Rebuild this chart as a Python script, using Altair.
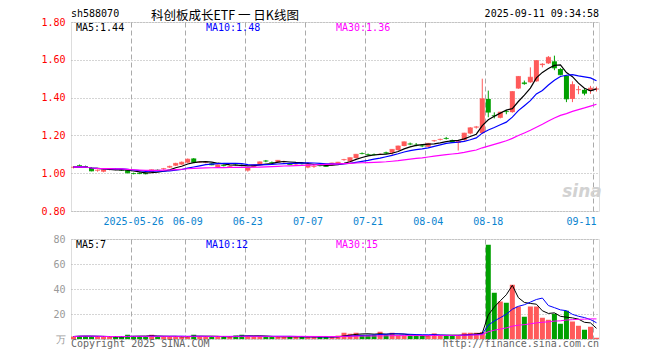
import altair as alt
import pandas as pd

dates = [
    "2025-05-12", "2025-05-13", "2025-05-14", "2025-05-15", "2025-05-16",
    "2025-05-19", "2025-05-20", "2025-05-21", "2025-05-22", "2025-05-23",
    "2025-05-26", "2025-05-27", "2025-05-28", "2025-05-29", "2025-05-30",
    "2025-06-03", "2025-06-04", "2025-06-05", "2025-06-06",
    "2025-06-09", "2025-06-10", "2025-06-11", "2025-06-12", "2025-06-13",
    "2025-06-16", "2025-06-17", "2025-06-18", "2025-06-19", "2025-06-20",
    "2025-06-23", "2025-06-24", "2025-06-25", "2025-06-26", "2025-06-27",
    "2025-06-30", "2025-07-01", "2025-07-02", "2025-07-03", "2025-07-04",
    "2025-07-07", "2025-07-08", "2025-07-09", "2025-07-10", "2025-07-11",
    "2025-07-14", "2025-07-15", "2025-07-16", "2025-07-17", "2025-07-18",
    "2025-07-21", "2025-07-22", "2025-07-23", "2025-07-24", "2025-07-25",
    "2025-07-28", "2025-07-29", "2025-07-30", "2025-07-31", "2025-08-01",
    "2025-08-04", "2025-08-05", "2025-08-06", "2025-08-07", "2025-08-08",
    "2025-08-11", "2025-08-12", "2025-08-13", "2025-08-14", "2025-08-15",
    "2025-08-18", "2025-08-19", "2025-08-20", "2025-08-21", "2025-08-22",
    "2025-08-25", "2025-08-26", "2025-08-27", "2025-08-28", "2025-08-29",
    "2025-09-01", "2025-09-02", "2025-09-03", "2025-09-04", "2025-09-05",
    "2025-09-08", "2025-09-09", "2025-09-10", "2025-09-11",
]

opens = [
    1.030, 1.042, 1.036, 1.028, 1.014, 1.008, 1.018, 1.022, 1.020, 1.016,
    1.000, 1.002, 1.000, 1.004, 1.018, 1.022, 1.030, 1.040, 1.046,
    1.056, 1.078, 1.058, 1.056, 1.052, 1.032, 1.044, 1.034, 1.050, 1.044,
    1.014, 1.032, 1.046, 1.066, 1.058, 1.056, 1.060, 1.052, 1.046, 1.052,
    1.030, 1.034, 1.042, 1.046, 1.042, 1.048, 1.070, 1.062, 1.080, 1.106,
    1.100, 1.100, 1.099, 1.110, 1.108, 1.122, 1.144, 1.156, 1.150, 1.146,
    1.140, 1.170, 1.177, 1.186, 1.175, 1.160, 1.175, 1.210, 1.242, 1.212,
    1.393, 1.306, 1.293, 1.328, 1.323, 1.448, 1.480, 1.481, 1.486, 1.572,
    1.581, 1.592, 1.551, 1.516, 1.393, 1.440, 1.441, 1.436, 1.444,
]
highs = [
    1.038, 1.046, 1.040, 1.030, 1.020, 1.022, 1.026, 1.026, 1.022, 1.018,
    1.003, 1.004, 1.003, 1.020, 1.020, 1.028, 1.040, 1.055, 1.062,
    1.078, 1.080, 1.064, 1.062, 1.054, 1.046, 1.046, 1.040, 1.054, 1.046,
    1.032, 1.046, 1.062, 1.070, 1.062, 1.070, 1.066, 1.054, 1.054, 1.056,
    1.058, 1.050, 1.046, 1.048, 1.056, 1.060, 1.076, 1.084, 1.102, 1.110,
    1.104, 1.104, 1.104, 1.114, 1.128, 1.146, 1.168, 1.162, 1.160, 1.150,
    1.160, 1.176, 1.183, 1.192, 1.178, 1.176, 1.214, 1.244, 1.250, 1.500,
    1.437, 1.322, 1.325, 1.335, 1.434, 1.514, 1.490, 1.560, 1.598, 1.582,
    1.620, 1.622, 1.556, 1.518, 1.486, 1.462, 1.450, 1.462, 1.458,
]
lows = [
    1.025, 1.030, 1.028, 1.010, 1.008, 1.005, 1.015, 1.016, 1.012, 0.999,
    0.994, 0.995, 0.994, 1.002, 1.010, 1.018, 1.028, 1.038, 1.044,
    1.054, 1.056, 1.054, 1.052, 1.042, 1.028, 1.036, 1.030, 1.040, 1.036,
    1.008, 1.030, 1.044, 1.058, 1.052, 1.054, 1.056, 1.044, 1.044, 1.046,
    1.026, 1.028, 1.036, 1.034, 1.040, 1.046, 1.066, 1.060, 1.078, 1.100,
    1.094, 1.094, 1.096, 1.102, 1.096, 1.120, 1.142, 1.148, 1.142, 1.138,
    1.138, 1.166, 1.173, 1.178, 1.162, 1.120, 1.172, 1.206, 1.236, 1.208,
    1.296, 1.290, 1.290, 1.312, 1.320, 1.446, 1.468, 1.478, 1.484, 1.560,
    1.578, 1.545, 1.518, 1.376, 1.376, 1.418, 1.412, 1.420, 1.432,
]
closes = [
    1.032, 1.034, 1.032, 1.012, 1.016, 1.018, 1.022, 1.020, 1.016, 1.002,
    0.998, 0.998, 0.997, 1.018, 1.014, 1.024, 1.036, 1.052, 1.058,
    1.074, 1.058, 1.060, 1.058, 1.044, 1.044, 1.040, 1.036, 1.048, 1.040,
    1.030, 1.044, 1.060, 1.064, 1.056, 1.068, 1.062, 1.046, 1.052, 1.050,
    1.046, 1.036, 1.040, 1.036, 1.054, 1.058, 1.072, 1.082, 1.100, 1.104,
    1.098, 1.098, 1.100, 1.106, 1.126, 1.144, 1.166, 1.154, 1.148, 1.144,
    1.158, 1.172, 1.179, 1.184, 1.165, 1.170, 1.212, 1.240, 1.245, 1.394,
    1.323, 1.304, 1.323, 1.326, 1.432, 1.512, 1.474, 1.508, 1.596, 1.577,
    1.613, 1.557, 1.521, 1.393, 1.469, 1.442, 1.423, 1.450, 1.446,
]
volumes = [
    2.0, 2.4, 2.4, 2.2, 1.8, 1.6, 1.6, 1.8, 1.6, 3.4,
    2.4, 2.2, 2.0, 3.4, 1.8, 1.6, 1.8, 2.0, 1.8,
    2.0, 3.4, 2.0, 1.8, 2.0, 1.6, 1.8, 1.8, 2.8, 3.4,
    2.6, 2.0, 2.0, 1.8, 1.8, 1.6, 1.8, 1.8, 1.6, 1.8,
    1.8, 1.6, 1.6, 1.6, 1.6, 2.7, 5.0, 4.2, 5.0, 3.4,
    3.4, 3.4, 5.8, 3.4, 5.0, 2.9, 2.7, 2.7, 2.7, 2.4,
    2.9, 4.5, 2.7, 2.4, 2.7, 2.9, 5.0, 5.0, 5.0, 5.5,
    75.4, 37.0, 30.0, 29.0, 43.4, 26.0, 17.8, 26.0, 26.0, 17.0,
    15.4, 20.2, 12.2, 22.6, 14.0, 10.6, 7.4, 9.8, 1.0,
]

label_dates = ["2025-05-26", "2025-06-09", "2025-06-23", "2025-07-07",
               "2025-07-21", "2025-08-04", "2025-08-18", "2025-09-11"]
price_ticks = [0.8, 1.0, 1.2, 1.4, 1.6, 1.8]
vol_ticks = [0, 20, 40, 60, 80]
price_legend = ["MA5:1.44", "MA10:1.48", "MA30:1.36"]
vol_legend = ["MA5:7", "MA10:12", "MA30:15"]
legend_colors = ["#000000", "#0000ff", "#ff00ff"]

df = pd.DataFrame({"date": dates, "open": opens, "high": highs, "low": lows,
                   "close": closes, "volume": volumes})
df["dir"] = ["up" if c >= o else "down" for o, c in zip(opens, closes)]

W, PH, VH = 528, 189, 100
UP, DN = "#ff5a5a", "#00a000"
MONO = "DejaVu Sans Mono"

color = alt.Color("dir:N", scale=alt.Scale(domain=["up", "down"], range=[UP, DN]), legend=None)
xscale = alt.Scale(paddingInner=1 / 6, paddingOuter=0)

label_expr = "datum.value == '2025-05-26' ? datum.value : substring(datum.value, 5)"
x_axis_price = alt.Axis(values=label_dates, labelExpr=label_expr, bandPosition=0,
                        grid=True, gridColor="#aaaaaa", gridDash=[5, 3], ticks=False,
                        domain=False, labelAngle=0, labelColor="#0a84d0", labelFont=MONO,
                        labelFontSize=10, labelPadding=5, title=None,
                        labelAlign=alt.condition("datum.value == '2025-09-11'",
                                                 alt.value("right"), alt.value("center")))
x_axis_vol = alt.Axis(values=label_dates, bandPosition=0, grid=True, gridColor="#aaaaaa",
                      gridDash=[5, 3], ticks=False, domain=False, labels=False, title=None)

yscale_p = alt.Scale(domain=[0.8, 1.8], nice=False, zero=False)
y_axis_p = alt.Axis(values=price_ticks, format=".2f", labelColor="#ff0000", gridColor="#aaaaaa",
                    gridDash=[1, 2], ticks=False, domain=False, title=None, labelFont=MONO,
                    labelFontSize=10, labelPadding=6)
yscale_v = alt.Scale(domain=[0, 80], nice=False)
y_axis_v = alt.Axis(values=vol_ticks, labelExpr="datum.value == 0 ? '万' : datum.label",
                    labelColor="#999999", gridColor="#aaaaaa", gridDash=[1, 2], ticks=False,
                    domain=False, title=None, labelFont=MONO, labelFontSize=10, labelPadding=6)


def Yp(f):
    return alt.Y(f, type="quantitative", scale=yscale_p, axis=y_axis_p)


def Yv(f):
    return alt.Y(f, type="quantitative", scale=yscale_v, axis=y_axis_v)


base_p = alt.Chart(df).encode(x=alt.X("date:O", scale=xscale, axis=x_axis_price))
wick = base_p.mark_rule(strokeWidth=1).encode(y=Yp("low"), y2="high", color=color)
body = base_p.mark_bar().encode(y=Yp("open"), y2="close", color=color)
doji = base_p.mark_tick(thickness=1, size=5).encode(y=Yp("close"), color=color)

ma_layers_p = []
for n, col in zip([5, 10, 30], legend_colors):
    ma_layers_p.append(
        base_p.transform_window(ma="mean(close)", frame=[-(n - 1), 0],
                                sort=[alt.SortField("date")])
        .mark_line(color=col, strokeWidth=1.2).encode(y=Yp("ma:Q"))
    )


def text_layer(s, x, y, color="#000000", size=10, font=MONO, align="left", **kw):
    return alt.Chart(pd.DataFrame({"t": [s]})).mark_text(
        align=align, baseline="middle", font=font, fontSize=size, color=color, **kw
    ).encode(text="t:N", x=alt.value(x), y=alt.value(y))


p_texts = [
    text_layer("sh588070", 0, -8),
    text_layer("科创板成长ETF  一 日K线图", 80, -6, size=12.5, font="Noto Sans CJK SC"),
    text_layer("2025-09-11 09:34:58", W, -8, align="right"),
    text_layer("sina", W - 17, PH - 19, color="#d2d2d2", size=17, font="DejaVu Sans",
               align="center", fontWeight="bold", fontStyle="italic"),
]
for s, x, c in zip(price_legend, [5, 135, 265], legend_colors):
    p_texts.append(text_layer(s, x, 6, color=c))

price = alt.layer(wick, body, doji, *ma_layers_p, *p_texts).properties(width=W, height=PH)

base_v = alt.Chart(df).encode(x=alt.X("date:O", scale=xscale, axis=x_axis_vol))
vbars = base_v.mark_bar().encode(y=Yv("volume"), color=color)
ma_layers_v = []
for n, col in zip([5, 10, 30], legend_colors):
    ma_layers_v.append(
        base_v.transform_window(ma="mean(volume)", frame=[-(n - 1), 0],
                                sort=[alt.SortField("date")])
        .mark_line(color=col, strokeWidth=1).encode(y=Yv("ma:Q"))
    )
v_texts = [
    text_layer("Copyright 2025 SINA.COM", 0, VH + 5, color="#666666"),
    text_layer("http://finance.sina.com.cn", W, VH + 5, color="#666666", align="right"),
]
for s, x, c in zip(vol_legend, [5, 135, 265], legend_colors):
    v_texts.append(text_layer(s, x, 6, color=c))

volume = alt.layer(vbars, *ma_layers_v, *v_texts).properties(width=W, height=VH)

chart = alt.vconcat(price, volume, spacing=6).properties(
    padding={"left": 32, "top": 0, "right": 0, "bottom": 0}
).configure_view(stroke="#999999", strokeWidth=1).configure(background="white")

chart.save("out.html", embed_options={"renderer": "svg", "actions": False})
